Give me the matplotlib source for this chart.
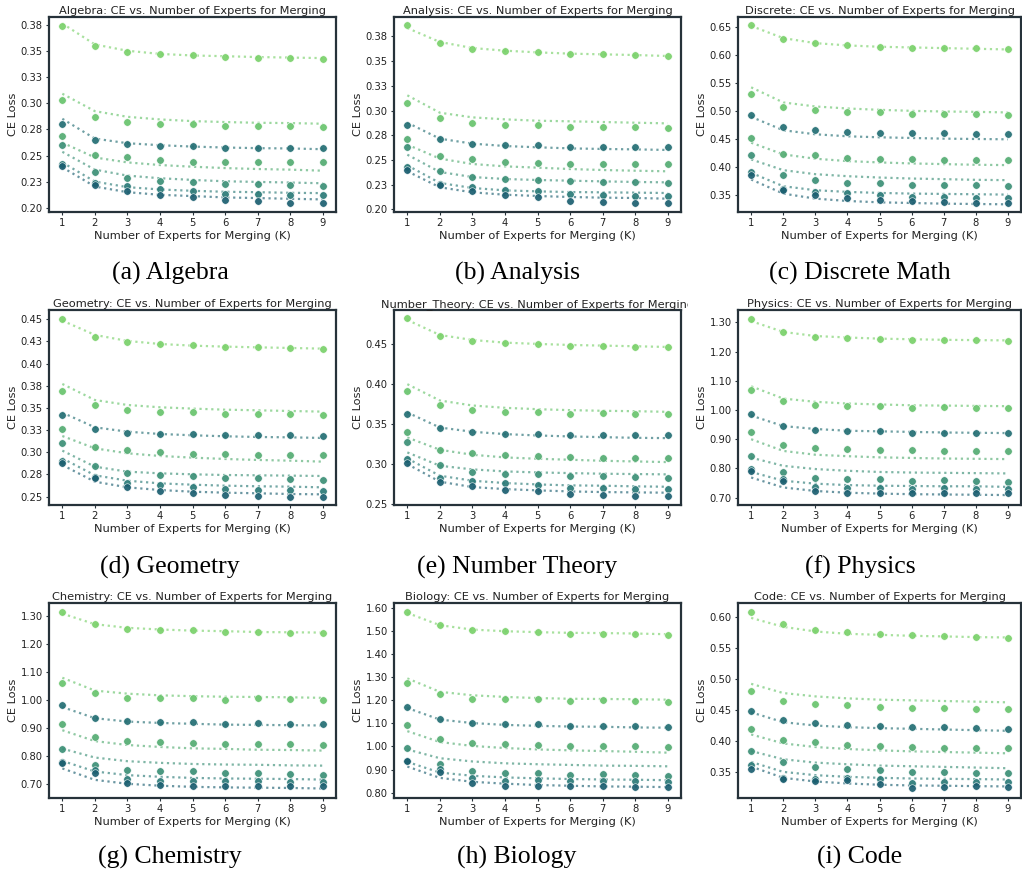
import numpy as np
import matplotlib
matplotlib.use('Agg')
from matplotlib import pyplot as plt
from matplotlib.ticker import FormatStrFormatter, MultipleLocator
from matplotlib.transforms import Bbox, TransformedBbox

#############################################################################################################
# data (7 series per subject, K = 1..9)
experts_k = [1, 2, 3, 4, 5, 6, 7, 8, 9]

subjects = ['Algebra', 'Analysis', 'Discrete', 'Geometry', 'Number_Theory',
            'Physics', 'Chemistry', 'Biology', 'Code']
captions = ['(a) Algebra', '(b) Analysis', '(c) Discrete Math', '(d) Geometry', '(e) Number Theory',
            '(f) Physics', '(g) Chemistry', '(h) Biology', '(i) Code']

algebra_pts = [
    [0.3734, 0.3545, 0.3488, 0.3469, 0.3457, 0.3438, 0.3435, 0.3432, 0.3422],
    [0.3028, 0.2870, 0.2820, 0.2804, 0.2801, 0.2782, 0.2785, 0.2779, 0.2772],
    [0.2804, 0.2650, 0.2615, 0.2593, 0.2593, 0.2577, 0.2577, 0.2574, 0.2574],
    [0.2687, 0.2504, 0.2482, 0.2457, 0.2438, 0.2438, 0.2435, 0.2435, 0.2435],
    [0.2599, 0.2347, 0.2284, 0.2259, 0.2252, 0.2227, 0.2227, 0.2218, 0.2214],
    [0.2419, 0.2240, 0.2208, 0.2183, 0.2167, 0.2136, 0.2129, 0.2120, 0.2120],
    [0.2404, 0.2215, 0.2158, 0.2126, 0.2101, 0.2076, 0.2063, 0.2050, 0.2044],
]
algebra_fit = [
    [0.3760, 0.3560, 0.3500, 0.3470, 0.3455, 0.3448, 0.3440, 0.3435, 0.3430],
    [0.3090, 0.2924, 0.2870, 0.2845, 0.2829, 0.2820, 0.2813, 0.2810, 0.2804],
    [0.2851, 0.2662, 0.2618, 0.2599, 0.2586, 0.2577, 0.2571, 0.2568, 0.2561],
    [0.2624, 0.2482, 0.2435, 0.2410, 0.2394, 0.2381, 0.2372, 0.2366, 0.2356],
    [0.2536, 0.2366, 0.2309, 0.2284, 0.2268, 0.2255, 0.2249, 0.2243, 0.2236],
    [0.2435, 0.2252, 0.2199, 0.2177, 0.2164, 0.2155, 0.2151, 0.2145, 0.2142],
    [0.2388, 0.2205, 0.2151, 0.2126, 0.2114, 0.2101, 0.2095, 0.2088, 0.2082],
]

analysis_pts = [
    [0.3869, 0.3684, 0.3626, 0.3599, 0.3593, 0.3576, 0.3572, 0.3566, 0.3556],
    [0.3080, 0.2924, 0.2874, 0.2857, 0.2854, 0.2833, 0.2836, 0.2833, 0.2823],
    [0.2857, 0.2709, 0.2661, 0.2648, 0.2648, 0.2631, 0.2634, 0.2631, 0.2631],
    [0.2715, 0.2536, 0.2506, 0.2479, 0.2466, 0.2462, 0.2459, 0.2455, 0.2455],
    [0.2628, 0.2391, 0.2331, 0.2307, 0.2300, 0.2283, 0.2280, 0.2273, 0.2267],
    [0.2428, 0.2256, 0.2223, 0.2199, 0.2186, 0.2152, 0.2142, 0.2135, 0.2135],
    [0.2398, 0.2243, 0.2182, 0.2148, 0.2128, 0.2088, 0.2078, 0.2067, 0.2061],
]
analysis_fit = [
    [0.3835, 0.3694, 0.3633, 0.3606, 0.3589, 0.3576, 0.3569, 0.3562, 0.3552],
    [0.3154, 0.2978, 0.2931, 0.2911, 0.2897, 0.2891, 0.2884, 0.2877, 0.2870],
    [0.2877, 0.2715, 0.2665, 0.2641, 0.2628, 0.2617, 0.2611, 0.2607, 0.2601],
    [0.2655, 0.2513, 0.2459, 0.2435, 0.2422, 0.2408, 0.2398, 0.2391, 0.2385],
    [0.2553, 0.2378, 0.2327, 0.2307, 0.2297, 0.2290, 0.2283, 0.2277, 0.2273],
    [0.2445, 0.2267, 0.2216, 0.2192, 0.2182, 0.2175, 0.2172, 0.2169, 0.2165],
    [0.2385, 0.2223, 0.2172, 0.2148, 0.2135, 0.2125, 0.2118, 0.2115, 0.2108],
]

discrete_pts = [
    [0.6531, 0.6291, 0.6213, 0.6172, 0.6148, 0.6130, 0.6124, 0.6118, 0.6106],
    [0.5297, 0.5075, 0.5021, 0.4985, 0.4974, 0.4950, 0.4950, 0.4938, 0.4932],
    [0.4932, 0.4710, 0.4662, 0.4626, 0.4614, 0.4614, 0.4602, 0.4596, 0.4596],
    [0.4518, 0.4237, 0.4207, 0.4159, 0.4135, 0.4135, 0.4117, 0.4117, 0.4117],
    [0.4219, 0.3853, 0.3758, 0.3722, 0.3710, 0.3680, 0.3680, 0.3674, 0.3662],
    [0.3913, 0.3608, 0.3560, 0.3536, 0.3500, 0.3470, 0.3458, 0.3446, 0.3440],
    [0.3853, 0.3584, 0.3494, 0.3452, 0.3416, 0.3392, 0.3380, 0.3362, 0.3356],
]
discrete_fit = [
    [0.6520, 0.6303, 0.6213, 0.6172, 0.6148, 0.6136, 0.6124, 0.6112, 0.6100],
    [0.5423, 0.5153, 0.5081, 0.5045, 0.5021, 0.5003, 0.4991, 0.4985, 0.4974],
    [0.4896, 0.4656, 0.4584, 0.4548, 0.4530, 0.4518, 0.4506, 0.4500, 0.4494],
    [0.4434, 0.4225, 0.4147, 0.4105, 0.4081, 0.4063, 0.4051, 0.4039, 0.4033],
    [0.4135, 0.3943, 0.3871, 0.3835, 0.3811, 0.3793, 0.3782, 0.3770, 0.3764],
    [0.3895, 0.3656, 0.3584, 0.3554, 0.3536, 0.3524, 0.3518, 0.3512, 0.3506],
    [0.3776, 0.3524, 0.3434, 0.3392, 0.3368, 0.3356, 0.3344, 0.3338, 0.3332],
]

geometry_pts = [
    [0.4500, 0.4305, 0.4241, 0.4222, 0.4207, 0.4188, 0.4188, 0.4181, 0.4169],
    [0.3692, 0.3530, 0.3478, 0.3459, 0.3455, 0.3432, 0.3436, 0.3432, 0.3425],
    [0.3421, 0.3263, 0.3222, 0.3203, 0.3207, 0.3192, 0.3196, 0.3192, 0.3188],
    [0.3263, 0.3064, 0.3026, 0.3000, 0.2981, 0.2978, 0.2970, 0.2970, 0.2970],
    [0.3105, 0.2846, 0.2771, 0.2741, 0.2733, 0.2707, 0.2707, 0.2703, 0.2692],
    [0.2906, 0.2718, 0.2654, 0.2632, 0.2613, 0.2583, 0.2575, 0.2575, 0.2568],
    [0.2884, 0.2707, 0.2605, 0.2568, 0.2541, 0.2523, 0.2508, 0.2500, 0.2500],
]
geometry_fit = [
    [0.4485, 0.4324, 0.4256, 0.4222, 0.4203, 0.4192, 0.4184, 0.4177, 0.4169],
    [0.3771, 0.3590, 0.3534, 0.3508, 0.3493, 0.3481, 0.3474, 0.3466, 0.3459],
    [0.3448, 0.3282, 0.3233, 0.3207, 0.3192, 0.3181, 0.3173, 0.3169, 0.3162],
    [0.3184, 0.3045, 0.2989, 0.2959, 0.2940, 0.2925, 0.2914, 0.2906, 0.2895],
    [0.3019, 0.2838, 0.2782, 0.2763, 0.2752, 0.2744, 0.2741, 0.2737, 0.2733],
    [0.2932, 0.2741, 0.2680, 0.2650, 0.2635, 0.2624, 0.2617, 0.2613, 0.2605],
    [0.2857, 0.2669, 0.2605, 0.2575, 0.2556, 0.2545, 0.2538, 0.2530, 0.2526],
]

number_theory_pts = [
    [0.4814, 0.4599, 0.4529, 0.4512, 0.4496, 0.4471, 0.4467, 0.4462, 0.4454],
    [0.3912, 0.3734, 0.3676, 0.3655, 0.3651, 0.3630, 0.3634, 0.3626, 0.3622],
    [0.3626, 0.3444, 0.3398, 0.3378, 0.3378, 0.3361, 0.3361, 0.3357, 0.3357],
    [0.3398, 0.3171, 0.3138, 0.3109, 0.3096, 0.3092, 0.3080, 0.3080, 0.3080],
    [0.3278, 0.2993, 0.2906, 0.2877, 0.2873, 0.2848, 0.2848, 0.2844, 0.2831],
    [0.3059, 0.2823, 0.2786, 0.2765, 0.2740, 0.2703, 0.2699, 0.2695, 0.2690],
    [0.3013, 0.2782, 0.2732, 0.2682, 0.2666, 0.2632, 0.2616, 0.2608, 0.2608],
]
number_theory_fit = [
    [0.4794, 0.4607, 0.4545, 0.4512, 0.4496, 0.4483, 0.4475, 0.4467, 0.4458],
    [0.3995, 0.3792, 0.3730, 0.3701, 0.3684, 0.3672, 0.3664, 0.3659, 0.3651],
    [0.3643, 0.3456, 0.3403, 0.3374, 0.3357, 0.3345, 0.3336, 0.3328, 0.3324],
    [0.3332, 0.3179, 0.3117, 0.3084, 0.3067, 0.3055, 0.3042, 0.3034, 0.3026],
    [0.3146, 0.2980, 0.2935, 0.2910, 0.2897, 0.2889, 0.2881, 0.2877, 0.2873],
    [0.3071, 0.2856, 0.2794, 0.2765, 0.2748, 0.2736, 0.2732, 0.2724, 0.2719],
    [0.3001, 0.2782, 0.2715, 0.2690, 0.2674, 0.2661, 0.2653, 0.2649, 0.2645],
]

physics_pts = [
    [1.310, 1.267, 1.251, 1.245, 1.243, 1.240, 1.241, 1.239, 1.236],
    [1.067, 1.030, 1.017, 1.014, 1.014, 1.008, 1.011, 1.008, 1.007],
    [0.986, 0.944, 0.931, 0.927, 0.927, 0.922, 0.922, 0.921, 0.920],
    [0.926, 0.880, 0.871, 0.867, 0.863, 0.862, 0.860, 0.859, 0.859],
    [0.843, 0.788, 0.769, 0.765, 0.764, 0.757, 0.759, 0.757, 0.753],
    [0.798, 0.764, 0.737, 0.733, 0.732, 0.729, 0.732, 0.729, 0.729],
    [0.791, 0.757, 0.724, 0.717, 0.716, 0.716, 0.717, 0.715, 0.715],
]
physics_fit = [
    [1.304, 1.267, 1.253, 1.248, 1.244, 1.242, 1.240, 1.239, 1.238],
    [1.081, 1.039, 1.028, 1.022, 1.019, 1.016, 1.015, 1.014, 1.013],
    [0.981, 0.945, 0.935, 0.929, 0.927, 0.925, 0.923, 0.922, 0.921],
    [0.900, 0.860, 0.847, 0.842, 0.838, 0.836, 0.834, 0.833, 0.832],
    [0.837, 0.809, 0.798, 0.792, 0.788, 0.786, 0.785, 0.784, 0.783],
    [0.788, 0.758, 0.748, 0.743, 0.741, 0.740, 0.739, 0.739, 0.737],
    [0.769, 0.735, 0.723, 0.717, 0.714, 0.712, 0.711, 0.710, 0.709],
]

chemistry_pts = [
    [1.316, 1.273, 1.256, 1.251, 1.250, 1.243, 1.244, 1.242, 1.240],
    [1.063, 1.024, 1.009, 1.007, 1.008, 1.001, 1.006, 1.004, 1.001],
    [0.981, 0.937, 0.925, 0.922, 0.922, 0.916, 0.918, 0.916, 0.915],
    [0.913, 0.866, 0.853, 0.848, 0.846, 0.842, 0.841, 0.841, 0.840],
    [0.823, 0.769, 0.749, 0.745, 0.745, 0.737, 0.738, 0.736, 0.733],
    [0.778, 0.749, 0.717, 0.711, 0.709, 0.709, 0.709, 0.708, 0.707],
    [0.775, 0.740, 0.702, 0.694, 0.692, 0.693, 0.693, 0.692, 0.692],
]
chemistry_fit = [
    [1.310, 1.272, 1.259, 1.253, 1.249, 1.247, 1.244, 1.243, 1.242],
    [1.080, 1.034, 1.023, 1.017, 1.014, 1.012, 1.011, 1.010, 1.008],
    [0.975, 0.935, 0.923, 0.918, 0.915, 0.912, 0.911, 0.910, 0.909],
    [0.892, 0.853, 0.839, 0.832, 0.827, 0.825, 0.822, 0.821, 0.819],
    [0.826, 0.794, 0.781, 0.775, 0.771, 0.769, 0.768, 0.766, 0.765],
    [0.782, 0.744, 0.731, 0.725, 0.721, 0.719, 0.718, 0.717, 0.715],
    [0.755, 0.714, 0.700, 0.693, 0.689, 0.687, 0.686, 0.685, 0.683],
]

biology_pts = [
    [1.583, 1.526, 1.504, 1.498, 1.495, 1.488, 1.488, 1.486, 1.483],
    [1.272, 1.226, 1.206, 1.204, 1.205, 1.196, 1.199, 1.198, 1.193],
    [1.172, 1.119, 1.101, 1.095, 1.095, 1.088, 1.090, 1.088, 1.086],
    [1.092, 1.033, 1.016, 1.010, 1.006, 1.002, 1.002, 1.000, 0.999],
    [0.992, 0.923, 0.894, 0.887, 0.886, 0.877, 0.880, 0.876, 0.872],
    [0.937, 0.903, 0.862, 0.852, 0.853, 0.850, 0.852, 0.849, 0.846],
    [0.936, 0.890, 0.842, 0.831, 0.829, 0.830, 0.830, 0.826, 0.824],
]
biology_fit = [
    [1.577, 1.524, 1.505, 1.498, 1.494, 1.491, 1.490, 1.488, 1.485],
    [1.294, 1.236, 1.221, 1.214, 1.209, 1.206, 1.205, 1.204, 1.202],
    [1.166, 1.116, 1.101, 1.093, 1.089, 1.086, 1.085, 1.082, 1.081],
    [1.066, 1.019, 1.002, 0.993, 0.987, 0.983, 0.980, 0.977, 0.973],
    [0.987, 0.949, 0.935, 0.927, 0.923, 0.920, 0.917, 0.916, 0.914],
    [0.933, 0.887, 0.873, 0.866, 0.862, 0.859, 0.857, 0.856, 0.854],
    [0.913, 0.864, 0.847, 0.839, 0.833, 0.830, 0.827, 0.826, 0.824],
]

code_pts = [
    [0.6089, 0.5891, 0.5800, 0.5758, 0.5731, 0.5710, 0.5699, 0.5677, 0.5667],
    [0.4816, 0.4656, 0.4607, 0.4581, 0.4559, 0.4543, 0.4538, 0.4527, 0.4516],
    [0.4495, 0.4345, 0.4303, 0.4265, 0.4244, 0.4238, 0.4228, 0.4212, 0.4201],
    [0.4201, 0.4014, 0.3982, 0.3944, 0.3917, 0.3912, 0.3896, 0.3891, 0.3891],
    [0.3837, 0.3661, 0.3591, 0.3554, 0.3537, 0.3511, 0.3505, 0.3495, 0.3484],
    [0.3612, 0.3409, 0.3393, 0.3404, 0.3382, 0.3318, 0.3340, 0.3345, 0.3340],
    [0.3559, 0.3388, 0.3361, 0.3366, 0.3313, 0.3249, 0.3259, 0.3270, 0.3259],
]
code_fit = [
    [0.5993, 0.5849, 0.5774, 0.5736, 0.5720, 0.5704, 0.5694, 0.5683, 0.5677],
    [0.4928, 0.4779, 0.4725, 0.4693, 0.4672, 0.4661, 0.4650, 0.4640, 0.4629],
    [0.4468, 0.4308, 0.4254, 0.4228, 0.4212, 0.4201, 0.4190, 0.4179, 0.4169],
    [0.4110, 0.3965, 0.3907, 0.3875, 0.3853, 0.3837, 0.3826, 0.3816, 0.3805],
    [0.3842, 0.3709, 0.3655, 0.3628, 0.3607, 0.3596, 0.3586, 0.3575, 0.3564],
    [0.3666, 0.3505, 0.3452, 0.3425, 0.3409, 0.3398, 0.3393, 0.3388, 0.3382],
    [0.3591, 0.3409, 0.3350, 0.3318, 0.3297, 0.3286, 0.3281, 0.3275, 0.3270],
]

all_pts = [algebra_pts, analysis_pts, discrete_pts, geometry_pts, number_theory_pts,
           physics_pts, chemistry_pts, biology_pts, code_pts]
all_fit = [algebra_fit, analysis_fit, discrete_fit, geometry_fit, number_theory_fit,
           physics_fit, chemistry_fit, biology_fit, code_fit]

#############################################################################################################
# styling
series_colors = ['#7ad16a', '#68c46c', '#236e73', '#54ac72', '#3b8f76', '#2a7a77', '#1b5e70']
y_limits = [(0.1962, 0.3822), (0.1973, 0.3947), (0.3195, 0.668), (0.2406, 0.4605), (0.2492, 0.4918),
            (0.675, 1.342), (0.649, 1.348), (0.777, 1.620), (0.3083, 0.6234)]
y_steps = [0.025, 0.025, 0.05, 0.025, 0.05, 0.1, 0.1, 0.1, 0.05]

W, H = 1022, 875
col_left = [49, 394, 738]
col_width = [287, 287, 283]
row_top = [17, 310, 603]
ax_height = 195
caption_x = [170, 517, 860]
caption_y = [273, 567, 857]

spine_color = '#26323a'
text_color = '#222222'

fig = plt.figure(figsize=(W / 100, H / 100), dpi=100)

for i, subject in enumerate(subjects):
    r, c = divmod(i, 3)
    ax = fig.add_axes([col_left[c] / W, 1 - (row_top[r] + ax_height) / H,
                       col_width[c] / W, ax_height / H])

    for j in range(7):
        ax.plot(experts_k, all_fit[i][j], linestyle=':', linewidth=1.6,
                color=series_colors[j], alpha=0.65, zorder=1)
        ax.scatter(experts_k, all_pts[i][j], s=29, color=series_colors[j],
                   edgecolor='white', linewidth=0.4, alpha=0.92, zorder=2)

    ax.set_xlim(0.59, 9.41)
    ax.set_ylim(*y_limits[i])
    ax.set_xticks(experts_k)
    ax.yaxis.set_major_locator(MultipleLocator(y_steps[i]))
    ax.yaxis.set_major_formatter(FormatStrFormatter('%.2f'))
    ax.tick_params(labelsize=7.2, length=2.5, width=0.8, pad=2,
                   color=spine_color, labelcolor=text_color)
    for sp in ax.spines.values():
        sp.set_color(spine_color)
        sp.set_linewidth(1.6)

    ax.set_xlabel('Number of Experts for Merging (K)', fontsize=8.2, color=text_color, labelpad=2)
    ax.set_ylabel('CE Loss', fontsize=8.2, color=text_color)
    ax.yaxis.set_label_coords(-0.108, 0.5)
    title = ax.set_title(f'{subject}: CE vs. Number of Experts for Merging',
                         fontsize=8.2, color=text_color, pad=2)
    # the reference crops each subfigure, so long titles get cut off
    clip = Bbox([[(col_left[c] - 58) / W, 0], [(col_left[c] + col_width[c] + 7) / W, 1]])
    title.set_clip_box(TransformedBbox(clip, fig.transFigure))
    title.set_clip_on(True)

    fig.text(caption_x[c] / W, 1 - caption_y[r] / H, captions[i], fontsize=18.5,
             family='Liberation Serif', ha='center', va='center', color='black')

fig.savefig('out.png', dpi=100)
